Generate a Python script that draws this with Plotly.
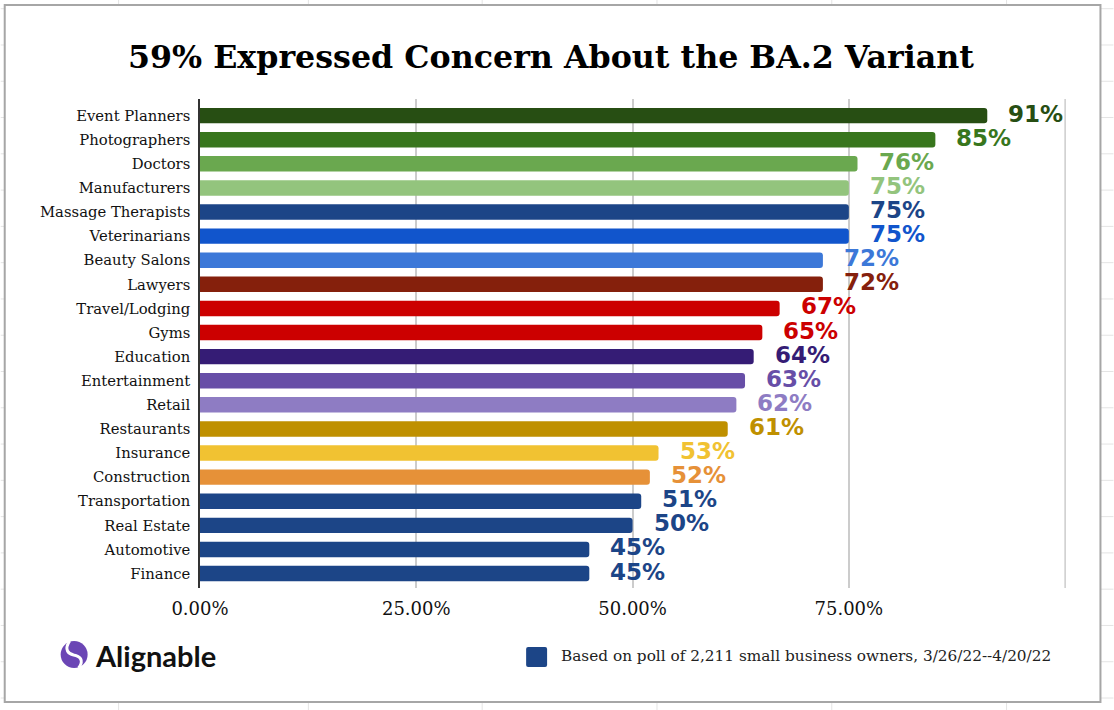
import plotly.graph_objects as go

categories = ['Event Planners', 'Photographers', 'Doctors', 'Manufacturers', 'Massage Therapists',
              'Veterinarians', 'Beauty Salons', 'Lawyers', 'Travel/Lodging', 'Gyms', 'Education',
              'Entertainment', 'Retail', 'Restaurants', 'Insurance', 'Construction',
              'Transportation', 'Real Estate', 'Automotive', 'Finance']
values = [91, 85, 76, 75, 75, 75, 72, 72, 67, 65, 64, 63, 62, 61, 53, 52, 51, 50, 45, 45]
colors = ['#274e13', '#38761d', '#6aa84f', '#93c47d', '#1c4587', '#1155cc', '#3c78d8', '#85200c',
          '#cc0000', '#cc0000', '#351c75', '#674ea7', '#8e7cc3', '#bf9000', '#f1c232', '#e69138',
          '#1c4587', '#1c4587', '#1c4587', '#1c4587']
tick_vals = [0, 25, 50, 75]
tick_text = ['0.00%', '25.00%', '50.00%', '75.00%']
axis_end = 100

SERIF = '"DejaVu Serif", Georgia, serif'

# plot area in pixels, footer items are placed relative to it
L, T, W, H = 199.5, 99, 867, 489


def px(x):
    return (x - L) / W


def py(y):
    return (T + H - y) / H


def page_path(*parts):
    # parts are SVG commands or (x, y) page pixels
    out = []
    for p in parts:
        out.append(p if isinstance(p, str) else f'{px(p[0]):.5f},{py(p[1]):.5f}')
    return ' '.join(out)


fig = go.Figure()
fig.add_bar(x=values, y=categories, orientation='h', marker=dict(color=colors, cornerradius=3, line_width=0),
            width=0.64, showlegend=False, hoverinfo='skip')

for cat, val, col in zip(categories, values, colors):
    fig.add_annotation(x=val, y=cat, text=f'<b>{val}%</b>', showarrow=False, xanchor='left', xshift=19, yshift=2,
                       font=dict(family='"DejaVu Sans", Verdana, sans-serif', size=23, color=col))

fig.update_layout(
    width=1114, height=710,
    title=dict(text='<b>59% Expressed Concern About the BA.2 Variant</b>', x=551 / 1114, xanchor='center',
               y=1 - 57 / 710, yanchor='middle', font=dict(family=SERIF, size=31.7, color='#000000')),
    margin=dict(l=L, r=1114 - L - W, t=T, b=710 - T - H),
    paper_bgcolor='white',
    plot_bgcolor='white',
    xaxis=dict(range=[0, 100.1], tickvals=tick_vals, ticktext=tick_text, showgrid=True, gridcolor='#cccccc',
               gridwidth=1.5, zeroline=False, showline=False, ticks='', ticklabelstandoff=8,
               tickfont=dict(family=SERIF, size=18, color='#111111')),
    yaxis=dict(type='category', categoryorder='array', categoryarray=categories, range=[19.6, -0.69],
               showgrid=False, zeroline=False, showline=True, linecolor='#333333', linewidth=1.5, ticks='',
               ticklabelstandoff=5, tickfont=dict(family=SERIF, size=14.8, color='#111111')),
)

# spreadsheet cells showing behind the chart
for x in [118, 308, 482, 657, 832, 1007]:
    fig.add_shape(type='line', xref='paper', yref='paper', x0=px(x), x1=px(x), y0=py(0), y1=py(710),
                  line=dict(color='#e4e4e4', width=1), layer='below')
for k in range(20):
    y = 8.7 + 36.28 * k
    fig.add_shape(type='line', xref='paper', yref='paper', x0=px(0), x1=px(1114), y0=py(y), y1=py(y),
                  line=dict(color='#e4e4e4', width=1), layer='below')

# frame around the chart
fig.add_shape(type='rect', xref='paper', yref='paper', x0=px(4), x1=px(1101), y0=py(702), y1=py(5),
              fillcolor='white', line=dict(color='#a6a6a6', width=2), layer='below')

# last gridline, has no label
fig.add_shape(type='line', xref='x', yref='y domain', x0=axis_end, x1=axis_end, y0=0, y1=1,
              line=dict(color='#cccccc', width=1.5), layer='below')

# footer legend
fig.add_shape(type='path', xref='paper', yref='paper', fillcolor='#1c4587', line_width=0,
              path=page_path('M', (528, 647), 'L', (545, 647), 'Q', (547, 647), (547, 649), 'L', (547, 665),
                             'Q', (547, 667), (545, 667), 'L', (528, 667), 'Q', (526, 667), (526, 665),
                             'L', (526, 649), 'Q', (526, 647), (528, 647), 'Z'))
fig.add_annotation(xref='paper', yref='paper', x=px(559), y=py(656), xanchor='left', yanchor='middle',
                   showarrow=False, text='Based on poll of 2,211 small business owners, 3/26/22--4/20/22',
                   font=dict(family=SERIF, size=15.3, color='#222222'))

# logo
fig.add_shape(type='circle', xref='paper', yref='paper', x0=px(60), x1=px(87), y0=py(668), y1=py(641),
              fillcolor='#6b46b5', line_width=0)
fig.add_shape(type='path', xref='paper', yref='paper', line=dict(color='white', width=3),
              path=page_path('M', (69, 641), 'C', (63, 650), (68, 654), (73, 655), 'C', (79, 656), (84, 660), (78, 668)))
fig.add_annotation(xref='paper', yref='paper', x=px(92), y=py(655), xanchor='left', yanchor='middle',
                   showarrow=False, text='<b>Alignable</b>', font=dict(family='Lato, sans-serif', size=29, color='#111111'))

fig.write_html('out.html', config=dict(displayModeBar=False), post_script="document.body.style.margin='0';")
